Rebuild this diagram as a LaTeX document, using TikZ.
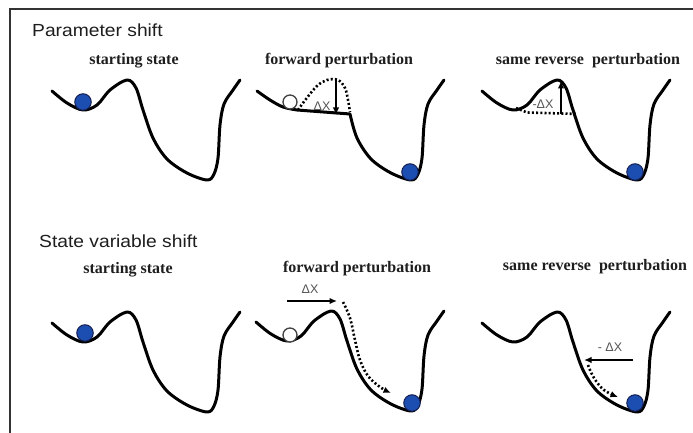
\documentclass[tikz,border=0pt]{standalone}
\usepackage{fontspec}
\setmainfont{Liberation Serif}
\setsansfont{Liberation Sans}
\usetikzlibrary{arrows.meta}
\definecolor{ballblue}{RGB}{28,78,178}
\definecolor{balledge}{RGB}{20,30,80}
\definecolor{txt}{RGB}{30,30,30}
\definecolor{lbl}{RGB}{85,85,85}
\begin{document}
\begin{tikzpicture}[x=1pt,y=-1pt,
  land/.style={line width=3pt, line join=round, line cap=round},
  dots/.style={line width=2.6pt, dash pattern=on 2pt off 2.2pt},
  ball/.style={circle, minimum size=16.5pt, inner sep=0pt, fill=ballblue, draw=balledge, line width=1pt},
  hollow/.style={circle, minimum size=14pt, inner sep=0pt, fill=white, draw=black!75, line width=1.3pt},
  head/.style={anchor=base west, font=\sffamily\fontsize{17.5}{20}\selectfont, text=txt, inner sep=0pt},
  sub/.style={anchor=base, font=\bfseries\fontsize{16}{18}\selectfont, text=txt, inner sep=0pt},
  dx/.style={font=\sffamily\fontsize{12.5}{14}\selectfont, text=lbl, inner sep=0pt},
  push/.style={line width=1.8pt, -{Latex[length=7.5pt,width=6.5pt]}},
  frame/.style={line width=1.3pt, draw=black!80}
  ]
\useasboundingbox (0,0) rectangle (693,433);
\draw[frame] (693,9) -- (10,9) -- (10,433);

% headings
\node[head] (h1) at (32,37) {\scalebox{1.1}[1]{Parameter shift}};
\node[head] (h2) at (39,247) {\scalebox{1.1}[1]{State variable shift}};

% subtitles
\node[sub] (s1) at (134,65) {starting state};
\node[sub] (s2) at (339,65) {forward perturbation};
\node[sub] (s3) at (588,65) {same reverse\ \ perturbation};
\node[sub] (s4) at (128,273) {starting state};
\node[sub] (s5) at (357,272) {forward perturbation};
\node[sub] (s6) at (595,270) {same reverse\ \ perturbation};

\def\fullland{plot[smooth, tension=0.55] coordinates {(52,91) (67,103) (83,110) (97,105) (110,90) (127,80) (136,88) (143,110) (153,138) (167,159) (187,173) (207,180) (214,174) (218,158) (220,125) (224,104) (233,90) (240,80)}}

% panel 1
\draw[land] \fullland;
\node[ball] (b1) at (83,102) {};

% panel 2
\draw[land] plot[smooth, tension=0.55] coordinates {(257,91) (270,100) (283,107) (297,110)} -- (350,114)
  -- plot[smooth, tension=0.55] coordinates {(350,114) (357,138) (371,159) (391,173) (411,180) (418,174) (422,158) (424,125) (428,104) (437,90) (444,80)};
\draw[dots] plot[smooth, tension=0.6] coordinates {(298,110) (306,99) (317,86) (327,80) (338,80) (345,88) (348,100) (350,112)};
\node[hollow] (w2) at (290,102) {};
\node[ball] (b2) at (410,172) {};
\coordinate (a2t) at (336,80);
\coordinate (a2b) at (336,115);
\draw[push] (a2t) -- (a2b);
\node[dx] (d2) at (322,106) {ΔX};

% panel 3
\begin{scope}[shift={(430,0)}]
\draw[land] \fullland;
\end{scope}
\draw[dots] (516,108) -- (527,112.5) -- (578,114);
\coordinate (a3b) at (561,114);
\coordinate (a3t) at (561,81);
\draw[push] (a3b) -- (a3t);
\node[dx] (d3) at (543,104) {-ΔX};
\node[ball] (b3) at (635,172) {};

% panel 4
\begin{scope}[shift={(0,232)}]
\draw[land] \fullland;
\end{scope}
\node[ball] (b4) at (85,333) {};

% panel 5
\begin{scope}[shift={(204,231)}]
\draw[land] \fullland;
\end{scope}
\node[hollow] (w5) at (290,335) {};
\node[ball] (b5) at (412,403) {};
\coordinate (a5l) at (287,301);
\coordinate (a5r) at (337,301);
\draw[push] (a5l) -- (a5r);
\node[dx] (d5) at (310,289) {ΔX};
\draw[dots, -{Latex[length=7.5pt,width=6.5pt]}] plot[smooth, tension=0.6] coordinates {(343,302) (350,318) (355,340) (360,360) (368,376) (380,387) (391,393)};

% panel 6
\begin{scope}[shift={(430,232)}]
\draw[land] \fullland;
\end{scope}
\node[ball] (b6) at (635,403) {};
\coordinate (a6r) at (633,360);
\coordinate (a6l) at (584,360);
\draw[push] (a6r) -- (a6l);
\node[dx] (d6) at (610,347) {- ΔX};
\draw[dots, -{Latex[length=7.5pt,width=6.5pt]}] plot[smooth, tension=0.6] coordinates {(588,365) (594,378) (604,390) (618,397)};
\end{tikzpicture}
\end{document}
